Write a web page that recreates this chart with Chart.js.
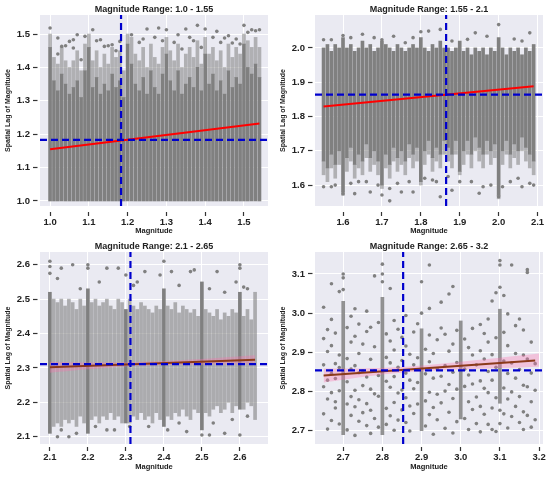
<!DOCTYPE html>
<html>
<head>
<meta charset="utf-8">
<script src="https://cdn.jsdelivr.net/npm/chart.js@4.4.1/dist/chart.umd.min.js"></script>
<style>
    html, body { margin: 0; padding: 0; background: #fff; }
    #wrap { position: relative; width: 550px; height: 478px; }
    canvas { position: absolute; }
</style>
</head>
<body>
<div id="wrap">
    <canvas id="c1" width="275" height="239" style="left:0;top:0"></canvas>
    <canvas id="c2" width="275" height="239" style="left:275px;top:0"></canvas>
    <canvas id="c3" width="275" height="239" style="left:0;top:239px"></canvas>
    <canvas id="c4" width="275" height="239" style="left:275px;top:239px"></canvas>
</div>
<script>
// ---- Panel 1: 1.0 - 1.55 ----
const p1Title = 'Magnitude Range: 1.0 - 1.55';
const p1XTicks = [1.0, 1.1, 1.2, 1.3, 1.4, 1.5];
const p1YTicks = [1.0, 1.1, 1.2, 1.3, 1.4, 1.5];
const p1XRange = [0.974, 1.562];
const p1YRange = [0.985, 1.557];
const p1ColX = [1.00,1.01,1.02,1.03,1.04,1.05,1.06,1.07,1.08,1.09,
                1.10,1.11,1.12,1.13,1.14,1.15,1.16,1.17,1.18,1.19,
                1.20,1.21,1.22,1.23,1.24,1.25,1.26,1.27,1.28,1.29,
                1.30,1.31,1.32,1.33,1.34,1.35,1.36,1.37,1.38,1.39,
                1.40,1.41,1.42,1.43,1.44,1.45,1.46,1.47,1.48,1.49,
                1.50,1.51,1.52,1.53,1.54];
const p1ColLo = [1.00,1.00,1.00,1.00,1.00,1.00,1.00,1.00,1.00,1.00,
                 1.00,1.00,1.00,1.00,1.00,1.00,1.00,1.00,1.00,1.00,
                 1.00,1.00,1.00,1.00,1.00,1.00,1.00,1.00,1.00,1.00,
                 1.00,1.00,1.00,1.00,1.00,1.00,1.00,1.00,1.00,1.00,
                 1.00,1.00,1.00,1.00,1.00,1.00,1.00,1.00,1.00,1.00,
                 1.00,1.00,1.00,1.00,1.00];
// top of the dense part of each column
const p1ColMid = [1.46,1.36,1.33,1.38,1.35,1.32,1.34,1.36,1.31,1.39,
                  1.46,1.34,1.37,1.32,1.35,1.33,1.38,1.34,1.36,1.31,
                  1.47,1.41,1.35,1.33,1.37,1.32,1.39,1.34,1.32,1.38,
                  1.44,1.36,1.33,1.39,1.32,1.35,1.37,1.34,1.40,1.33,
                  1.44,1.35,1.38,1.33,1.36,1.32,1.39,1.34,1.37,1.35,
                  1.47,1.40,1.38,1.41,1.37];
// top of the thinner part above it
const p1ColTop = [1.50,1.43,1.41,1.46,1.42,1.40,1.42,1.45,1.39,1.47,
                  1.50,1.42,1.45,1.40,1.44,1.41,1.46,1.43,1.45,1.39,
                  1.50,1.49,1.44,1.42,1.46,1.40,1.47,1.43,1.41,1.46,
                  1.49,1.45,1.42,1.47,1.40,1.44,1.46,1.43,1.48,1.41,
                  1.49,1.44,1.46,1.42,1.45,1.40,1.47,1.43,1.46,1.44,
                  1.50,1.48,1.46,1.49,1.46];
const p1Pts = [[1.00,1.518],[1.02,1.488],[1.03,1.463],[1.05,1.478],[1.06,1.483],[1.07,1.498],[1.09,1.493],
               [1.11,1.513],[1.13,1.483],[1.14,1.463],[1.16,1.468],[1.21,1.498],[1.25,1.515],[1.28,1.518],
               [1.30,1.513],[1.33,1.498],[1.35,1.515],[1.38,1.526],[1.40,1.515],[1.43,1.508],[1.45,1.488],
               [1.47,1.473],[1.50,1.526],[1.52,1.513],[1.54,1.513],[1.06,1.458],[1.08,1.423],[1.18,1.478],
               [1.02,1.44],[1.04,1.465],[1.12,1.48],[1.15,1.465],[1.17,1.45],[1.23,1.475],[1.24,1.485],
               [1.27,1.49],[1.29,1.48],[1.32,1.475],[1.34,1.455],[1.36,1.49],[1.37,1.48],[1.39,1.46],
               [1.42,1.49],[1.44,1.475],[1.46,1.495],[1.48,1.485],[1.49,1.47],[1.51,1.505],[1.53,1.51]];
const p1RegX = [1.00, 1.54];
const p1RegY = [1.155, 1.232];
const p1MeanX = 1.183;
const p1MeanY = 1.183;

// ---- Panel 2: 1.55 - 2.1 ----
const p2Title = 'Magnitude Range: 1.55 - 2.1';
const p2XTicks = [1.6, 1.7, 1.8, 1.9, 2.0, 2.1];
const p2YTicks = [1.6, 1.7, 1.8, 1.9, 2.0];
const p2XRange = [1.528, 2.114];
const p2YRange = [1.539, 2.096];
const p2ColX = [1.55,1.56,1.57,1.58,1.59,1.60,1.61,1.62,1.63,1.64,
                1.65,1.66,1.67,1.68,1.69,1.70,1.71,1.72,1.73,1.74,
                1.75,1.76,1.77,1.78,1.79,1.80,1.81,1.82,1.83,1.84,
                1.85,1.86,1.87,1.88,1.89,1.90,1.91,1.92,1.93,1.94,
                1.95,1.96,1.97,1.98,1.99,2.00,2.01,2.02,2.03,2.04,
                2.05,2.06,2.07,2.08,2.09];
// bottom of the thin lower part of each column
const p2ColBot = [1.63,1.61,1.65,1.62,1.66,1.57,1.64,1.67,1.62,1.65,
                  1.63,1.68,1.64,1.66,1.63,1.59,1.65,1.62,1.67,1.64,
                  1.66,1.63,1.68,1.65,1.67,1.60,1.66,1.69,1.64,1.67,
                  1.65,1.69,1.67,1.65,1.69,1.63,1.66,1.69,1.65,1.70,
                  1.67,1.65,1.69,1.66,1.68,1.56,1.66,1.69,1.65,1.68,
                  1.66,1.70,1.67,1.65,1.63];
// bottom of the dense part
const p2ColLo = [1.67,1.65,1.69,1.66,1.70,1.58,1.68,1.71,1.66,1.69,
                 1.67,1.72,1.68,1.70,1.67,1.60,1.69,1.66,1.71,1.68,
                 1.70,1.67,1.72,1.69,1.71,1.61,1.70,1.73,1.68,1.71,
                 1.69,1.73,1.71,1.69,1.73,1.64,1.70,1.73,1.69,1.74,
                 1.71,1.69,1.73,1.70,1.72,1.57,1.70,1.73,1.69,1.72,
                 1.70,1.74,1.71,1.69,1.67];
const p2ColHi = [2.00,2.01,1.99,2.01,2.00,2.03,2.00,2.01,1.99,2.00,
                 2.02,2.00,2.01,1.99,2.00,2.02,2.01,2.00,1.99,2.01,
                 2.00,1.99,2.00,2.01,2.00,2.03,2.00,1.99,2.01,2.00,
                 2.02,2.00,2.00,1.99,2.00,2.02,1.99,2.00,1.98,2.00,
                 1.99,2.00,1.98,2.00,1.99,2.03,2.00,1.98,2.00,1.99,
                 2.00,1.98,2.00,1.99,2.01];
const p2Pts = [[1.55,2.024],[1.57,2.024],[1.60,2.036],[1.62,2.03],[1.65,2.04],[1.68,2.03],[1.70,2.024],
               [1.73,2.034],[1.78,2.03],[1.80,2.047],[1.82,2.049],[1.85,2.054],[1.94,2.044],[1.97,2.034],
               [2.00,2.068],[2.04,2.026],[2.08,2.044],[1.76,2.015],[1.88,2.02],[1.92,2.025],[2.06,2.02],
               [1.55,1.595],[1.57,1.595],[1.60,1.575],[1.62,1.605],[1.63,1.575],[1.66,1.61],[1.67,1.58],
               [1.70,1.571],[1.72,1.554],[1.72,1.59],[1.75,1.58],[1.78,1.58],[1.83,1.615],[1.85,1.566],
               [1.88,1.585],[1.90,1.61],[1.95,1.576],[1.96,1.595],[2.00,1.566],[2.01,1.595],[2.06,1.595],
               [1.58,1.60],[1.64,1.61],[1.69,1.60],[1.74,1.605],[1.77,1.61],[1.81,1.62],[1.84,1.61],
               [1.87,1.625],[1.93,1.61],[1.98,1.60],[2.03,1.61],[2.05,1.62],[2.08,1.605],[2.09,1.60]];
const p2RegX = [1.55, 2.09];
const p2RegY = [1.829, 1.888];
const p2MeanX = 1.865;
const p2MeanY = 1.864;

// ---- Panel 3: 2.1 - 2.65 ----
const p3Title = 'Magnitude Range: 2.1 - 2.65';
const p3XTicks = [2.1, 2.2, 2.3, 2.4, 2.5, 2.6];
const p3YTicks = [2.1, 2.2, 2.3, 2.4, 2.5, 2.6];
const p3XRange = [2.074, 2.674];
const p3YRange = [2.079, 2.637];
const p3MainX = [2.1, 2.2, 2.3, 2.4, 2.5, 2.6];
const p3MainLo = [2.11, 2.11, 2.14, 2.13, 2.12, 2.18];
const p3MainHi = [2.52, 2.53, 2.47, 2.53, 2.55, 2.52];
const p3ColX = [2.11,2.12,2.13,2.14,2.15,2.16,2.17,2.18,2.19,
                2.21,2.22,2.23,2.24,2.25,2.26,2.27,2.28,2.29,
                2.31,2.32,2.33,2.34,2.35,2.36,2.37,2.38,2.39,
                2.41,2.42,2.43,2.44,2.45,2.46,2.47,2.48,2.49,
                2.51,2.52,2.53,2.54,2.55,2.56,2.57,2.58,2.59,
                2.61,2.62,2.63,2.64];
const p3ColLo = [2.13,2.14,2.13,2.15,2.14,2.15,2.13,2.16,2.14,
                 2.15,2.16,2.14,2.16,2.15,2.17,2.15,2.16,2.14,
                 2.14,2.16,2.15,2.17,2.15,2.16,2.14,2.17,2.15,
                 2.16,2.15,2.17,2.16,2.18,2.16,2.15,2.18,2.17,
                 2.17,2.16,2.18,2.19,2.17,2.18,2.20,2.17,2.19,
                 2.18,2.20,2.19,2.15];
const p3ColHi = [2.50,2.49,2.50,2.48,2.50,2.49,2.47,2.50,2.48,
                 2.49,2.50,2.48,2.49,2.50,2.48,2.47,2.50,2.49,
                 2.50,2.48,2.47,2.49,2.48,2.47,2.46,2.48,2.47,
                 2.48,2.47,2.49,2.46,2.48,2.47,2.46,2.47,2.45,
                 2.47,2.46,2.45,2.47,2.44,2.46,2.45,2.47,2.46,
                 2.45,2.47,2.44,2.52];
const p3Pts = [[2.10,2.61],[2.10,2.595],[2.10,2.575],[2.13,2.59],[2.16,2.60],[2.20,2.60],[2.20,2.59],
               [2.25,2.59],[2.28,2.59],[2.30,2.57],[2.35,2.58],[2.40,2.61],[2.39,2.57],[2.42,2.58],
               [2.47,2.58],[2.48,2.585],[2.54,2.58],[2.59,2.55],[2.60,2.60],[2.60,2.59],[2.61,2.535],
               [2.62,2.53],[2.12,2.56],[2.18,2.53],[2.23,2.55],[2.32,2.54],[2.33,2.55],[2.44,2.54],
               [2.52,2.53],[2.56,2.52],
               [2.12,2.10],[2.15,2.10],[2.27,2.12],[2.41,2.12],[2.46,2.115],[2.50,2.105],[2.52,2.105],
               [2.56,2.11],[2.60,2.105],[2.13,2.12],[2.17,2.11],[2.22,2.13],[2.25,2.12],[2.31,2.13],
               [2.36,2.13],[2.44,2.14],[2.53,2.14],[2.58,2.15],[2.62,2.16]];
const p3RegX = [2.10, 2.64];
const p3RegY = [2.302, 2.324];
const p3BandX = [2.10, 2.20, 2.31, 2.45, 2.64];
const p3BandHi = [2.318, 2.316, 2.317, 2.323, 2.337];
const p3BandLo = [2.286, 2.296, 2.305, 2.309, 2.311];
const p3MeanX = 2.312;
const p3MeanY = 2.311;

// ---- Panel 4: 2.65 - 3.2 ----
const p4Title = 'Magnitude Range: 2.65 - 3.2';
const p4XTicks = [2.7, 2.8, 2.9, 3.0, 3.1, 3.2];
const p4YTicks = [2.7, 2.8, 2.9, 3.0, 3.1];
const p4XRange = [2.628, 3.21];
const p4YRange = [2.666, 3.156];
const p4MainX = [2.7, 2.8, 2.9, 3.0, 3.1];
const p4MainLo = [2.69, 2.69, 2.70, 2.73, 2.77];
const p4MainHi = [3.03, 3.04, 2.96, 2.98, 3.01];
const p4Pts = [
    [2.65,2.743],[2.65,2.812],[2.65,2.868],[2.65,2.935],[2.65,3.015],
    [2.66,2.704],[2.66,2.781],[2.66,2.829],[2.66,2.902],[2.66,2.958],
    [2.67,2.726],[2.67,2.797],[2.67,2.846],[2.67,2.917],[2.67,2.984],[2.67,3.075],
    [2.68,2.758],[2.68,2.774],[2.68,2.833],[2.68,2.871],[2.68,2.949],
    [2.69,2.717],[2.69,2.802],[2.69,2.861],[2.69,2.893],[2.69,3.055],
    [2.70,3.10],[2.70,3.09],[2.70,3.06],
    [2.71,2.702],[2.71,2.768],[2.71,2.825],[2.71,2.884],[2.71,2.963],
    [2.72,2.739],[2.72,2.787],[2.72,2.857],[2.72,2.926],[2.72,2.992],
    [2.73,2.688],[2.73,2.761],[2.73,2.803],[2.73,2.866],[2.73,2.941],[2.73,3.011],
    [2.74,2.724],[2.74,2.779],[2.74,2.848],[2.74,2.897],[2.74,2.972],
    [2.75,2.746],[2.75,2.815],[2.75,2.852],[2.75,2.921],
    [2.76,2.713],[2.76,2.769],[2.76,2.837],[2.76,2.953],[2.76,3.005],
    [2.77,2.693],[2.77,2.752],[2.77,2.806],[2.77,2.882],[2.77,2.964],
    [2.78,2.731],[2.78,2.794],[2.78,2.853],[2.78,2.914],[2.78,3.095],
    [2.79,2.709],[2.79,2.788],[2.79,2.841],[2.79,2.976],
    [2.80,3.125],[2.80,3.10],[2.80,3.08],
    [2.81,2.716],[2.81,2.757],[2.81,2.826],[2.81,2.887],[2.81,2.947],
    [2.82,2.738],[2.82,2.811],[2.82,2.873],[2.82,2.929],[2.82,3.063],
    [2.83,2.701],[2.83,2.772],[2.83,2.838],[2.83,2.906],[2.83,2.981],
    [2.84,2.727],[2.84,2.796],[2.84,2.862],[2.84,2.959],
    [2.85,2.753],[2.85,2.804],[2.85,2.879],[2.85,2.938],
    [2.86,2.721],[2.86,2.784],[2.86,2.847],[2.86,2.916],[2.86,2.994],
    [2.87,2.699],[2.87,2.763],[2.87,2.829],[2.87,2.895],
    [2.88,2.744],[2.88,2.807],[2.88,2.868],[2.88,2.952],
    [2.89,2.768],[2.89,2.823],[2.89,2.886],[2.89,2.973],
    [2.90,3.08],[2.90,3.00],
    [2.91,2.712],[2.91,2.776],[2.91,2.845],[2.91,2.908],
    [2.92,2.741],[2.92,2.798],[2.92,2.876],[2.92,2.944],[2.92,3.012],[2.92,3.123],
    [2.93,2.691],[2.93,2.759],[2.93,2.834],[2.93,2.897],
    [2.94,2.728],[2.94,2.793],[2.94,2.858],[2.94,2.932],
    [2.95,2.771],[2.95,2.839],[2.95,2.962],[2.95,3.028],
    [2.96,2.706],[2.96,2.801],[2.96,2.866],[2.96,2.946],
    [2.97,2.747],[2.97,2.818],[2.97,2.903],[2.97,3.049],
    [2.98,2.694],[2.98,2.782],[2.98,2.849],[2.98,2.921],[2.98,3.068],
    [2.99,2.723],[2.99,2.806],[2.99,2.874],[2.99,2.956],
    [3.01,2.731],[3.01,2.813],[3.01,2.857],[3.01,2.934],
    [3.02,2.703],[3.02,2.774],[3.02,2.842],[3.02,2.912],
    [3.03,2.754],[3.03,2.819],[3.03,2.893],[3.03,2.961],
    [3.04,2.718],[3.04,2.786],[3.04,2.868],
    [3.05,2.697],[3.05,2.762],[3.05,2.827],[3.05,2.904],[3.05,2.971],
    [3.06,2.742],[3.06,2.808],[3.06,2.883],[3.06,2.948],
    [3.07,2.716],[3.07,2.797],[3.07,2.851],[3.07,2.926],[3.07,2.985],
    [3.08,2.703],[3.08,2.758],[3.08,2.829],[3.08,2.894],[3.08,3.031],
    [3.09,2.698],[3.09,2.784],[3.09,2.862],[3.09,2.937],[3.09,3.052],
    [3.10,3.134],[3.10,3.123],[3.10,3.066],[3.10,2.752],[3.10,2.718],
    [3.11,2.743],[3.11,2.809],[3.11,2.878],[3.11,2.951],[3.11,3.045],
    [3.12,2.707],[3.12,2.781],[3.12,2.846],[3.12,2.917],[3.12,2.998],
    [3.13,2.736],[3.13,2.799],[3.13,2.873],[3.13,3.123],
    [3.14,2.762],[3.14,2.834],[3.14,2.897],[3.14,2.968],
    [3.15,2.721],[3.15,2.787],[3.15,2.856],[3.15,2.985],
    [3.16,2.703],[3.16,2.748],[3.16,2.816],[3.16,2.893],[3.16,2.957],
    [3.17,2.739],[3.17,2.812],[3.17,2.883],[3.17,3.111],[3.17,3.104],
    [3.18,2.709],[3.18,2.774],[3.18,2.847],[3.18,2.926],
    [3.19,2.728],[3.19,2.803],[3.19,2.871]
];
const p4RegX = [2.65, 3.19];
const p4RegY = [2.841, 2.879];
const p4BandX = [2.65, 2.75, 2.86, 3.00, 3.20];
const p4BandHi = [2.859, 2.859, 2.863, 2.876, 2.897];
const p4BandLo = [2.823, 2.837, 2.849, 2.856, 2.863];
const p4MeanX = 2.853;
const p4MeanY = 2.854;

const FONT = "'Liberation Sans', Arial, sans-serif";
const DOT = '#808080';
const DOT_THIN = 'rgba(128, 128, 128, 0.55)';
const MEAN_BLUE = '#0000cd';

// grey plot background + white canvas
const plotBg = {
    id: 'plotBg',
    beforeDraw(chart) {
        const { ctx, chartArea: a } = chart;
        ctx.save();
        ctx.fillStyle = '#ffffff';
        ctx.fillRect(0, 0, chart.width, chart.height);
        ctx.fillStyle = '#eaeaf2';
        ctx.fillRect(a.left, a.top, a.width, a.height);
        ctx.restore();
    }
};

// title centred over the plot area, like matplotlib
const panelTitle = {
    id: 'panelTitle',
    afterDraw(chart, args, opts) {
        const { ctx, chartArea: a } = chart;
        ctx.save();
        ctx.font = 'bold 9px ' + FONT;
        ctx.fillStyle = '#222';
        ctx.textAlign = 'center';
        ctx.textBaseline = 'middle';
        ctx.fillText(opts.text, (a.left + a.right) / 2, opts.y);
        ctx.restore();
    }
};

function cols(xs, lo, hi) {
    return xs.map((x, i) => ({ x: x, y: [lo[i], hi[i]] }));
}
function pts(list) {
    return list.map(p => ({ x: p[0], y: p[1] }));
}
function line(xs, ys) {
    return xs.map((x, i) => ({ x: x, y: ys[i] }));
}

function makePanel(id, p) {
    const datasets = [
        // mean lines on top
        { type: 'line', data: [{ x: p.xRange[0], y: p.meanY }, { x: p.xRange[1], y: p.meanY }],
          borderColor: MEAN_BLUE, borderWidth: 2.2, borderDash: [7, 4], pointRadius: 0, order: 0 },
        { type: 'line', data: [{ x: p.meanX, y: p.yRange[0] }, { x: p.meanX, y: p.yRange[1] }],
          borderColor: MEAN_BLUE, borderWidth: 2.2, borderDash: [7, 4], pointRadius: 0, order: 0 },
        // regression line
        { type: 'line', data: line(p.regX, p.regY), borderColor: p.regColor, borderWidth: 2,
          pointRadius: 0, order: 1 }
    ];
    if (p.bandX) {
        datasets.push({ type: 'line', data: line(p.bandX, p.bandHi), borderWidth: 0, pointRadius: 0,
                        backgroundColor: 'rgba(255, 110, 170, 0.32)', fill: '+1', tension: 0.3, order: 2 });
        datasets.push({ type: 'line', data: line(p.bandX, p.bandLo), borderWidth: 0, pointRadius: 0,
                        fill: false, tension: 0.3, order: 2 });
    }
    datasets.push({ type: 'scatter', data: pts(p.pts), pointRadius: 1.8, pointBorderWidth: 0,
                    pointBackgroundColor: DOT, order: 3 });
    p.bars.forEach(b => {
        datasets.push({ type: 'bar', data: b.data, backgroundColor: b.color, borderWidth: 0,
                        barThickness: 3, grouped: false, order: 4 });
    });

    new Chart(document.getElementById(id), {
        type: 'scatter',
        data: { datasets: datasets },
        plugins: [plotBg, panelTitle],
        options: {
            responsive: false,
            animation: false,
            devicePixelRatio: 1,
            layout: { padding: { top: p.top, right: 7, left: 0, bottom: 0 } },
            plugins: {
                legend: { display: false },
                tooltip: { enabled: false },
                panelTitle: { text: p.title, y: p.titleY }
            },
            scales: {
                x: {
                    type: 'linear',
                    min: p.xRange[0],
                    max: p.xRange[1],
                    offset: false,
                    afterBuildTicks: s => { s.ticks = p.xTicks.map(v => ({ value: v })); },
                    afterFit: s => { s.height = p.xAxisH; },
                    border: { display: false },
                    grid: { offset: false, color: '#ffffff', lineWidth: 1, tickColor: '#333',
                            tickLength: p.xTickLen, tickWidth: 1.2, tickBorderDash: [0, p.xTickLen - 4, 4] },
                    ticks: { font: { family: FONT, size: 9.5, weight: 'bold' }, color: '#222', padding: 1,
                             maxRotation: 0, autoSkip: false, callback: v => v.toFixed(1) },
                    title: { display: true, text: 'Magnitude', color: '#222',
                             font: { family: FONT, size: 7.5, weight: 'bold' }, padding: { top: 0, bottom: p.xTitlePad } }
                },
                y: {
                    type: 'linear',
                    min: p.yRange[0],
                    max: p.yRange[1],
                    afterBuildTicks: s => { s.ticks = p.yTicks.map(v => ({ value: v })); },
                    afterFit: s => { s.width = 40; },
                    border: { display: false },
                    grid: { color: '#ffffff', lineWidth: 1, tickColor: '#333', tickLength: 7,
                            tickWidth: 1.2, tickBorderDash: [4.5, 2.5] },
                    ticks: { font: { family: FONT, size: 9.5, weight: 'bold' }, color: '#222', padding: 3,
                             autoSkip: false, callback: v => v.toFixed(1) },
                    title: { display: true, text: 'Spatial Lag of Magnitude', color: '#222',
                             font: { family: FONT, size: 7, weight: 'bold' }, padding: { top: 4, bottom: 0 } }
                }
            }
        }
    });
}

makePanel('c1', {
    title: p1Title, titleY: 10, top: 15, xAxisH: 33, xTitlePad: 4, xTickLen: 10,
    xTicks: p1XTicks, yTicks: p1YTicks, xRange: p1XRange, yRange: p1YRange,
    bars: [{ data: cols(p1ColX, p1ColLo, p1ColMid), color: DOT },
           { data: cols(p1ColX, p1ColMid, p1ColTop), color: DOT_THIN }],
    pts: p1Pts, regX: p1RegX, regY: p1RegY, regColor: '#ff0000',
    meanX: p1MeanX, meanY: p1MeanY
});

makePanel('c2', {
    title: p2Title, titleY: 10, top: 15, xAxisH: 33, xTitlePad: 4, xTickLen: 10,
    xTicks: p2XTicks, yTicks: p2YTicks, xRange: p2XRange, yRange: p2YRange,
    bars: [{ data: cols(p2ColX, p2ColLo, p2ColHi), color: DOT },
           { data: cols(p2ColX, p2ColBot, p2ColLo), color: DOT_THIN }],
    pts: p2Pts, regX: p2RegX, regY: p2RegY, regColor: '#ff0000',
    meanX: p2MeanX, meanY: p2MeanY
});

makePanel('c3', {
    title: p3Title, titleY: 8, top: 13, xAxisH: 34, xTitlePad: 7, xTickLen: 7,
    xTicks: p3XTicks, yTicks: p3YTicks, xRange: p3XRange, yRange: p3YRange,
    bars: [{ data: cols(p3MainX, p3MainLo, p3MainHi), color: DOT },
           { data: cols(p3ColX, p3ColLo, p3ColHi), color: 'rgba(128, 128, 128, 0.6)' }],
    pts: p3Pts, regX: p3RegX, regY: p3RegY, regColor: '#8b3a1a',
    bandX: p3BandX, bandHi: p3BandHi, bandLo: p3BandLo,
    meanX: p3MeanX, meanY: p3MeanY
});

makePanel('c4', {
    title: p4Title, titleY: 8, top: 13, xAxisH: 34, xTitlePad: 7, xTickLen: 7,
    xTicks: p4XTicks, yTicks: p4YTicks, xRange: p4XRange, yRange: p4YRange,
    bars: [{ data: cols(p4MainX, p4MainLo, p4MainHi), color: 'rgba(128, 128, 128, 0.85)' }],
    pts: p4Pts, regX: p4RegX, regY: p4RegY, regColor: '#8b3a1a',
    bandX: p4BandX, bandHi: p4BandHi, bandLo: p4BandLo,
    meanX: p4MeanX, meanY: p4MeanY
});
</script>
</body>
</html>
